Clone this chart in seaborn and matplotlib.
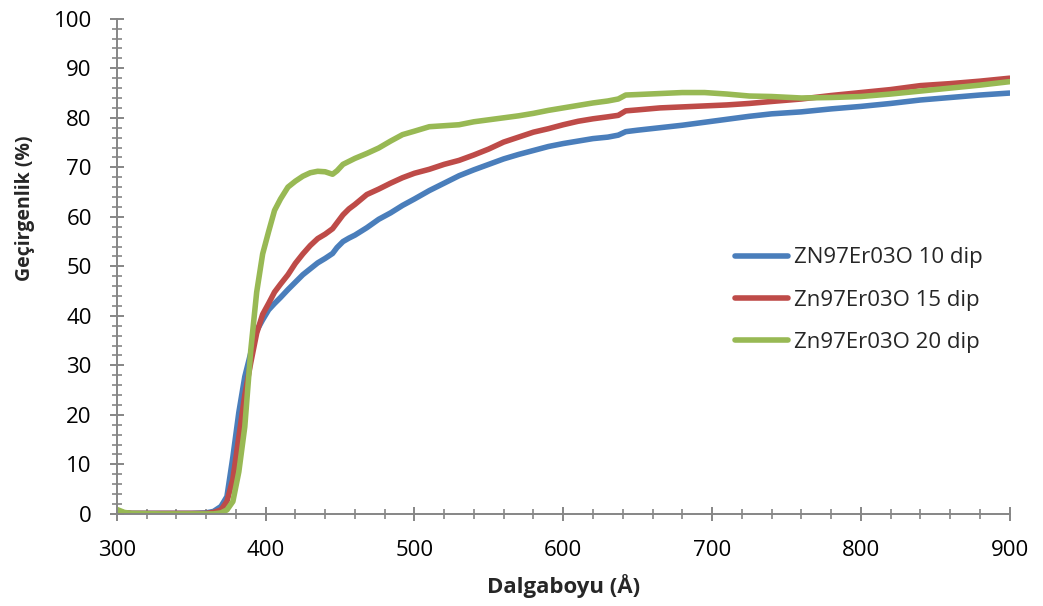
import pandas as pd
import seaborn as sns
import matplotlib.pyplot as plt
from matplotlib.ticker import MultipleLocator

# Wavelength grid (nm)
wavelength = [300, 305, 310, 330, 350, 360, 365, 370, 374, 378, 382, 386, 390, 394, 398,
              402, 406, 410, 415, 420, 425, 430, 435, 440, 445, 448, 452, 456, 460, 468,
              476, 484, 492, 500, 510, 520, 530, 540, 550, 560, 570, 580, 590, 600, 610,
              620, 630, 637, 642, 650, 665, 680, 695, 710, 725, 740, 760, 780, 800, 820,
              840, 860, 880, 900]

# Transmittance (%) for each sample
dip10 = [0.6, 0.2, 0.1, 0.1, 0.1, 0.2, 0.5, 1.5, 3.5, 11.5, 20.5, 27.7, 32.5, 37.0, 39.2,
         41.2, 42.5, 43.7, 45.3, 46.8, 48.3, 49.5, 50.7, 51.6, 52.6, 53.8, 55.0, 55.7, 56.3, 57.8,
         59.5, 60.8, 62.3, 63.6, 65.3, 66.8, 68.3, 69.5, 70.6, 71.7, 72.6, 73.4, 74.2, 74.8, 75.3,
         75.8, 76.1, 76.5, 77.2, 77.5, 78.0, 78.5, 79.1, 79.7, 80.3, 80.8, 81.2, 81.8, 82.3, 82.9,
         83.6, 84.1, 84.6, 85.0]

dip15 = [0.5, 0.2, 0.1, 0.1, 0.1, 0.1, 0.3, 0.8, 2.5, 7.0, 15.5, 24.0, 30.5, 36.5, 40.3,
         42.5, 44.8, 46.4, 48.3, 50.6, 52.5, 54.2, 55.6, 56.5, 57.6, 58.8, 60.4, 61.6, 62.5, 64.5,
         65.6, 66.8, 67.9, 68.8, 69.6, 70.6, 71.4, 72.5, 73.7, 75.1, 76.1, 77.1, 77.8, 78.6, 79.3,
         79.8, 80.2, 80.5, 81.4, 81.6, 82.0, 82.2, 82.4, 82.6, 82.9, 83.3, 83.8, 84.5, 85.1, 85.7,
         86.5, 86.9, 87.4, 88.0]

dip20 = [0.9, 0.3, 0.1, 0.0, 0.0, 0.0, 0.0, 0.2, 0.8, 2.5, 8.5, 17.6, 33.0, 44.8, 52.5,
         57.0, 61.3, 63.6, 66.0, 67.2, 68.2, 68.9, 69.2, 69.1, 68.6, 69.3, 70.6, 71.2, 71.8, 72.8,
         73.9, 75.3, 76.6, 77.3, 78.2, 78.4, 78.6, 79.2, 79.6, 80.0, 80.4, 80.9, 81.5, 82.0, 82.5,
         83.0, 83.4, 83.8, 84.6, 84.7, 84.9, 85.1, 85.1, 84.8, 84.4, 84.3, 84.0, 84.1, 84.3, 84.8,
         85.4, 86.0, 86.6, 87.3]

labels = ['ZN97Er03O 10 dip', 'Zn97Er03O 15 dip', 'Zn97Er03O 20 dip']
colors = ['#4A7EBB', '#BE4B48', '#98B954']

# Long format table for seaborn
df = pd.concat([
    pd.DataFrame({'wl': wavelength, 'T': vals, 'sample': lab})
    for vals, lab in zip([dip10, dip15, dip20], labels)
])

sns.set_style('white')
plt.rcParams['font.family'] = ['Open Sans', 'DejaVu Sans']

fig = plt.figure(figsize=(10.43, 6.06), dpi=100)
ax = fig.add_axes([0.112, 0.152, 0.856, 0.817])

sns.lineplot(data=df, x='wl', y='T', hue='sample', hue_order=labels,
             palette=colors, linewidth=4.0, ax=ax, sort=False)

ax.set_xlim(300, 900)
ax.set_ylim(0, 100)
ax.xaxis.set_major_locator(MultipleLocator(100))
ax.xaxis.set_minor_locator(MultipleLocator(20))
ax.yaxis.set_major_locator(MultipleLocator(10))
ax.yaxis.set_minor_locator(MultipleLocator(2))

# Excel-like gray axes, no box
for side in ['top', 'right']:
    ax.spines[side].set_visible(False)
for side in ['left', 'bottom']:
    ax.spines[side].set_color('#868686')
    ax.spines[side].set_linewidth(1.4)

# seaborn's white style hides ticks, switch them back on
ax.tick_params(which='both', bottom=True, left=True, top=False, right=False)
ax.tick_params(which='major', direction='inout', length=10, width=1.4,
               color='#868686', labelsize=16, labelcolor='black')
ax.tick_params(axis='y', which='major', pad=13)
ax.tick_params(axis='x', which='major', pad=14)
ax.tick_params(which='minor', direction='inout', length=7, width=1.2, color='#868686')

ax.set_xlabel('Dalgaboyu (Å)', fontsize=16, fontweight='bold')
ax.set_ylabel('Geçirgenlik (%)', fontsize=14, fontweight='bold')
ax.xaxis.set_label_coords(0.5, -0.122)
ax.yaxis.set_label_coords(-0.092, 0.618)

ax.legend(loc='center left', bbox_to_anchor=(0.692, 0.432), frameon=False,
          fontsize=16, handlelength=2.4, handletextpad=0.25, labelspacing=0.95,
          borderaxespad=0, borderpad=0)

plt.savefig('out.png', dpi=100)
